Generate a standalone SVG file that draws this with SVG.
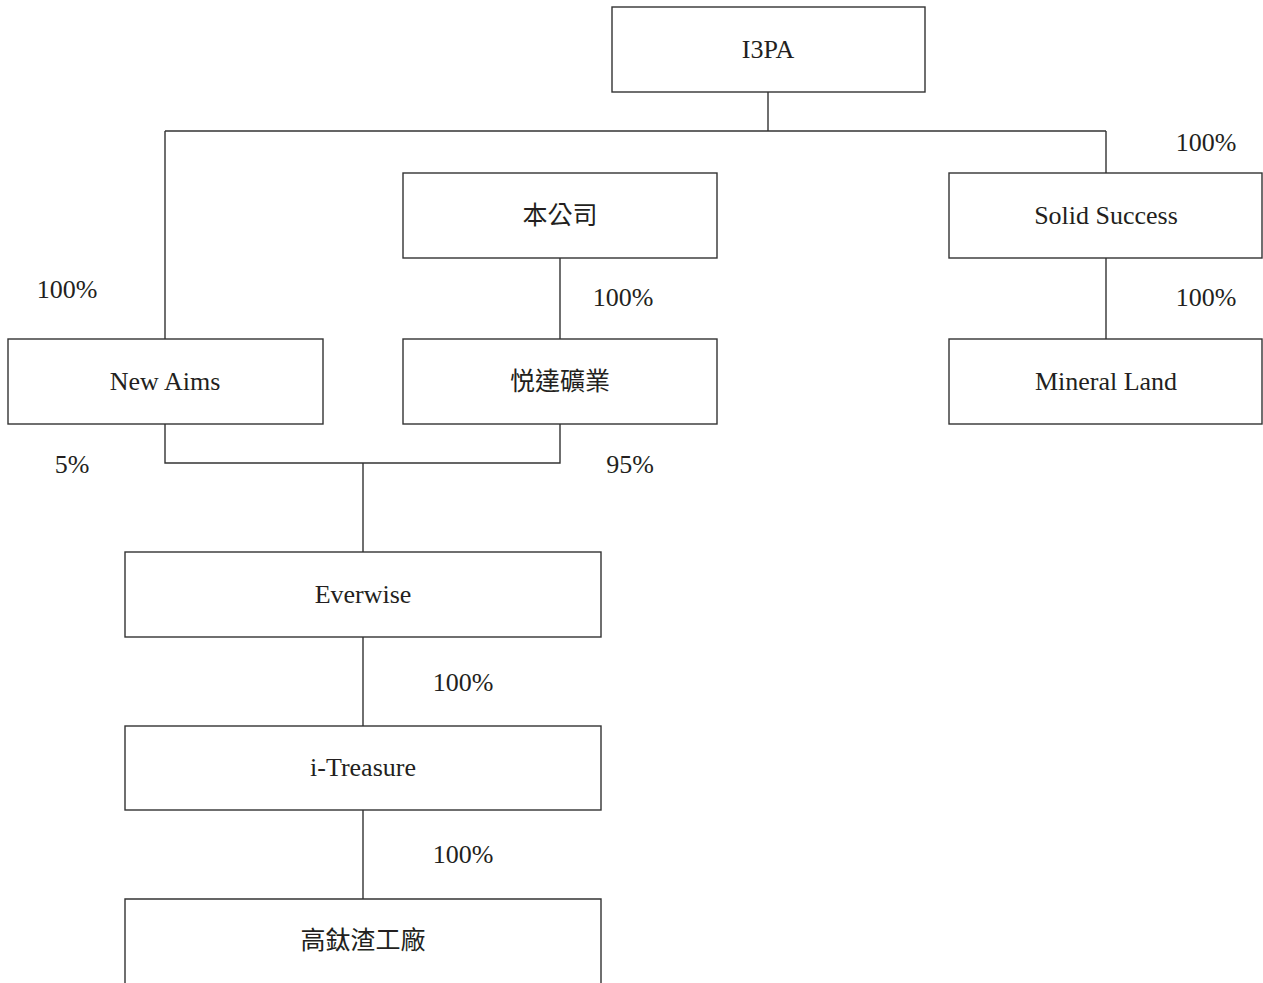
<svg xmlns="http://www.w3.org/2000/svg" width="1263" height="983" viewBox="0 0 1263 983">
<style>
.box{fill:#fff;stroke:#333;stroke-width:1.4}
.ln{fill:none;stroke:#333;stroke-width:1.4}
text{font-family:"Liberation Serif","Noto Sans CJK TC",serif;font-size:26px;fill:#231f20}
.c{text-anchor:middle}
.cjk{font-size:25px}
</style>
<rect width="1263" height="983" fill="#fff"/>
<g id="connectors">
<path class="ln" d="M768,92 V131 M165,131 H1106 M165,131 V339 M1106,131 V173"/>
<path class="ln" d="M560,258 V339"/>
<path class="ln" d="M1106,258 V339"/>
<path class="ln" d="M165,424 V463 H560 V424 M363,463 V552"/>
<path class="ln" d="M363,637 V726"/>
<path class="ln" d="M363,810 V899"/>
<text x="1206" y="151" class="c">100%</text>
<text x="67" y="298" class="c">100%</text>
<text x="623" y="306" class="c">100%</text>
<text x="1206" y="306" class="c">100%</text>
<text x="72" y="473" class="c">5%</text>
<text x="630" y="473" class="c">95%</text>
<text x="463" y="691" class="c">100%</text>
<text x="463" y="863" class="c">100%</text>
</g>
<g id="n-i3pa"><rect class="box" x="612" y="7" width="313" height="85"/><text x="768" y="58" class="c">I3PA</text></g>
<g id="n-company"><rect class="box" x="403" y="173" width="314" height="85"/><text x="560" y="224" class="c cjk">本公司</text></g>
<g id="n-solid"><rect class="box" x="949" y="173" width="313" height="85"/><text x="1106" y="224" class="c">Solid Success</text></g>
<g id="n-newaims"><rect class="box" x="8" y="339" width="315" height="85"/><text x="165" y="390" class="c">New Aims</text></g>
<g id="n-yueda"><rect class="box" x="403" y="339" width="314" height="85"/><text x="560" y="390" class="c cjk">悦達礦業</text></g>
<g id="n-mineral"><rect class="box" x="949" y="339" width="313" height="85"/><text x="1106" y="390" class="c">Mineral Land</text></g>
<g id="n-everwise"><rect class="box" x="125" y="552" width="476" height="85"/><text x="363" y="603" class="c">Everwise</text></g>
<g id="n-itreasure"><rect class="box" x="125" y="726" width="476" height="84"/><text x="363" y="776" class="c">i-Treasure</text></g>
<g id="n-factory"><path class="ln" d="M125,990 V899 H601 V990"/><text x="363" y="949" class="c cjk">高鈦渣工廠</text></g>
</svg>
